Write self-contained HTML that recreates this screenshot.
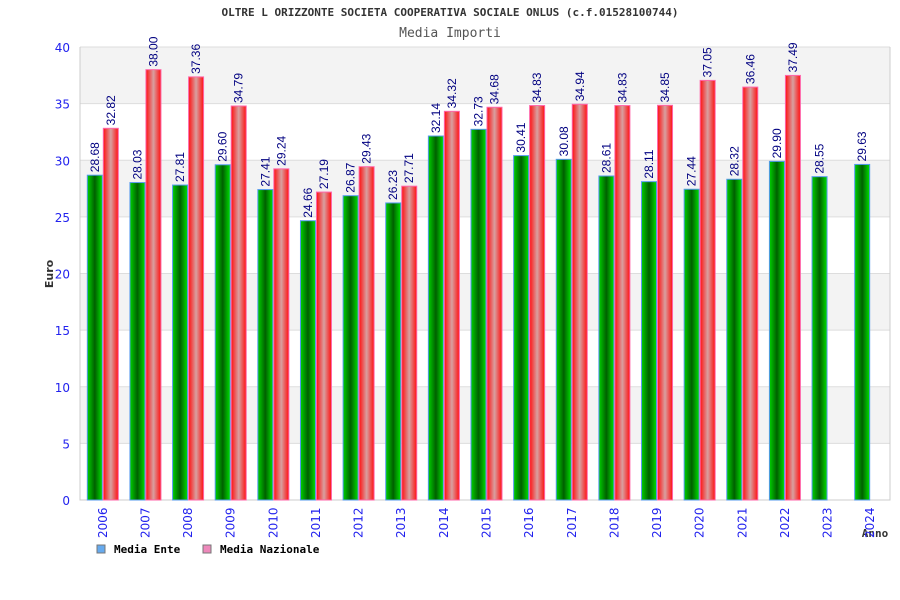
<!DOCTYPE html>
<html><head><meta charset="utf-8"><style>
body{margin:0;background:#fff;}
svg{display:block;font-family:"DejaVu Sans Mono","Liberation Mono",monospace;}
.sans{font-family:"DejaVu Sans","Liberation Sans",sans-serif;}
.val{font-family:"Liberation Sans",sans-serif;}
</style></head><body>
<svg id="c" width="900" height="600">
<defs>
<linearGradient id="gg" x1="0" x2="1"><stop offset="0" stop-color="#00d000"/><stop offset="0.5" stop-color="#006000"/><stop offset="1" stop-color="#00e000"/></linearGradient>
<linearGradient id="gr" x1="0" x2="1"><stop offset="0" stop-color="#ff1010"/><stop offset="0.5" stop-color="#d8a0a0"/><stop offset="1" stop-color="#ff1010"/></linearGradient>
</defs>
<text x="450" y="16" text-anchor="middle" font-size="11" font-weight="bold" fill="#333">OLTRE L ORIZZONTE SOCIETA COOPERATIVA SOCIALE ONLUS (c.f.01528100744)</text>
<text x="450" y="37" text-anchor="middle" font-size="13" fill="#555">Media Importi</text>
<text class="sans" transform="translate(53,274) rotate(-90)" text-anchor="middle" font-size="11" font-weight="bold" fill="#333">Euro</text>
<text x="875" y="537" text-anchor="middle" font-size="11" font-weight="bold" fill="#333">Anno</text>
<g id="grid"></g><g id="bars"></g><g id="labels"></g>
<g>
<rect x="97" y="545" width="8" height="8" fill="#66aaee" stroke="#777"/>
<text x="114" y="553" font-size="11" font-weight="bold">Media Ente</text>
<rect x="203" y="545" width="8" height="8" fill="#ee88bb" stroke="#777"/>
<text x="220" y="553" font-size="11" font-weight="bold">Media Nazionale</text>
</g>
</svg>
<script>
const years=["2006","2007","2008","2009","2010","2011","2012","2013","2014","2015","2016","2017","2018","2019","2020","2021","2022","2023","2024"];
const ente=[28.68,28.03,27.81,29.60,27.41,24.66,26.87,26.23,32.14,32.73,30.41,30.08,28.61,28.11,27.44,28.32,29.90,28.55,29.63];
const naz=[32.82,38.00,37.36,34.79,29.24,27.19,29.43,27.71,34.32,34.68,34.83,34.94,34.83,34.85,37.05,36.46,37.49,null,null];
const yTicks=[0,5,10,15,20,25,30,35,40];
const NS="http://www.w3.org/2000/svg";
const L=80,R=890,T=47,B=500,YMAX=40;
const y=v=>B-(v/YMAX)*(B-T);
const gw=(R-L)/years.length;
const x=i=>L+i*gw;
function mk(t,a,p){const e=document.createElementNS(NS,t);for(const k in a)e.setAttribute(k,a[k]);p.appendChild(e);return e;}
const grid=document.getElementById('grid'),bars=document.getElementById('bars'),labs=document.getElementById('labels');
for(let k=0;k<yTicks.length-1;k++){
 if(k%2===1){const r=mk('rect',{x:L,y:y(yTicks[k+1]),width:R-L,height:y(yTicks[k])-y(yTicks[k+1]),fill:'#f3f3f3'},grid);
 
 }
}
yTicks.forEach(t=>{
 const l=mk('line',{x1:L,x2:R,y1:y(t),y2:y(t),stroke:'#ddd'},grid);
 
 
 const tx=mk('text',{x:70,y:y(t)+5,'text-anchor':'end','font-size':12,fill:'#2222ee',class:'sans'},grid);tx.textContent=t;
 
 
});
const ax=mk('path',{d:`M${L},${T}V${B}H${R}V${T}`,fill:'none',stroke:'#ccc'},grid);


const bw=15;
years.forEach((yr,i)=>{
 const cx=x(i)+gw/2+1.5;
 const gx=cx-bw-0.5;
 const g=mk('rect',{x:gx,y:y(ente[i]),width:bw,height:B-y(ente[i]),fill:'url(#gg)',stroke:'#5599ee','stroke-width':1},bars);
 
 
 const t1=mk('text',{transform:`translate(${gx+bw/2+4},${y(ente[i])-3}) rotate(-90)`,'font-size':12,fill:'#000080',class:'val'},labs);t1.textContent=ente[i].toFixed(2);
 
 
 if(naz[i]!=null){
  const rx=cx+0.5;
  const r=mk('rect',{x:rx,y:y(naz[i]),width:bw,height:B-y(naz[i]),fill:'url(#gr)',stroke:'#ff66aa','stroke-width':1},bars);
  
  
  const t2=mk('text',{transform:`translate(${rx+bw/2+4},${y(naz[i])-3}) rotate(-90)`,'font-size':12,fill:'#000080',class:'val'},labs);t2.textContent=naz[i].toFixed(2);
  
  
 }
 const xt=mk('text',{transform:`translate(${cx+4},${538}) rotate(-90)`,'font-size':12,fill:'#2222ee',class:'sans'},labs);xt.textContent=yr;
 
 
});
</script>
</body></html>
